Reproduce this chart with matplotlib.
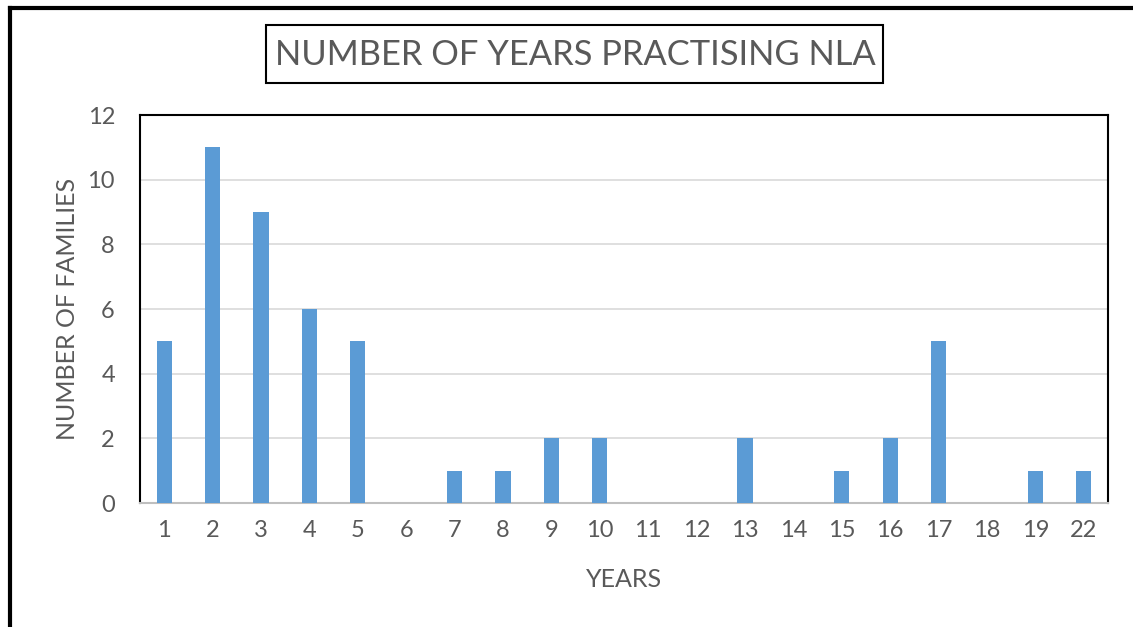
import matplotlib
matplotlib.use("Agg")
import matplotlib.pyplot as plt
from matplotlib.lines import Line2D
from matplotlib.patches import Rectangle

years = ["1", "2", "3", "4", "5", "6", "7", "8", "9", "10",
         "11", "12", "13", "14", "15", "16", "17", "18", "19", "22"]
families = [5, 11, 9, 6, 5, 0, 1, 1, 2, 2, 0, 0, 2, 0, 1, 2, 5, 0, 1, 1]
y_ticks = [0, 2, 4, 6, 8, 10, 12]

text_color = "#595959"
bar_color = "#5B9BD5"
plt.rcParams["font.family"] = ["Lato", "DejaVu Sans"]

fig = plt.figure(figsize=(11.33, 6.27), dpi=100)
ax = fig.add_axes([140 / 1133, 1 - 503 / 627, 968 / 1133, 388 / 627])

x = range(len(years))
ax.bar(x, families, width=0.31, color=bar_color, zorder=3)

ax.set_xlim(-0.5, len(years) - 0.5)
ax.set_ylim(0, 12)
ax.set_yticks(y_ticks)
ax.set_xticks(list(x))
ax.set_xticklabels(years)
ax.tick_params(length=0, labelsize=17, labelcolor=text_color)
ax.tick_params(axis="x", pad=12)
ax.tick_params(axis="y", pad=18)
ax.grid(axis="y", color="#D9D9D9", linewidth=1.2, zorder=0)

for side in ["left", "top", "right"]:
    ax.spines[side].set_color("black")
    ax.spines[side].set_linewidth(1.5)
ax.spines["bottom"].set_color("#BFBFBF")
ax.spines["bottom"].set_linewidth(1.5)

ax.set_xlabel("YEARS", fontsize=18, color=text_color, labelpad=20)
ax.set_ylabel("NUMBER OF FAMILIES", fontsize=18, color=text_color, labelpad=6)

# title in its own box
fig.patches.append(Rectangle((266 / 1133, 1 - 83 / 627), 617 / 1133, 58 / 627,
                             transform=fig.transFigure, fill=False,
                             edgecolor="black", linewidth=1.5))
fig.text(575 / 1133, 1 - 55 / 627, "NUMBER OF YEARS PRACTISING NLA",
         ha="center", va="center", fontsize=24.8, color=text_color)

# outer frame (left and top edges)
fig.lines.append(Line2D([10 / 1133, 10 / 1133], [0, 1 - 8 / 627],
                        transform=fig.transFigure, color="black", linewidth=3))
fig.lines.append(Line2D([10 / 1133, 1], [1 - 8 / 627, 1 - 8 / 627],
                        transform=fig.transFigure, color="black", linewidth=3))

fig.savefig("out.png", dpi=100)
